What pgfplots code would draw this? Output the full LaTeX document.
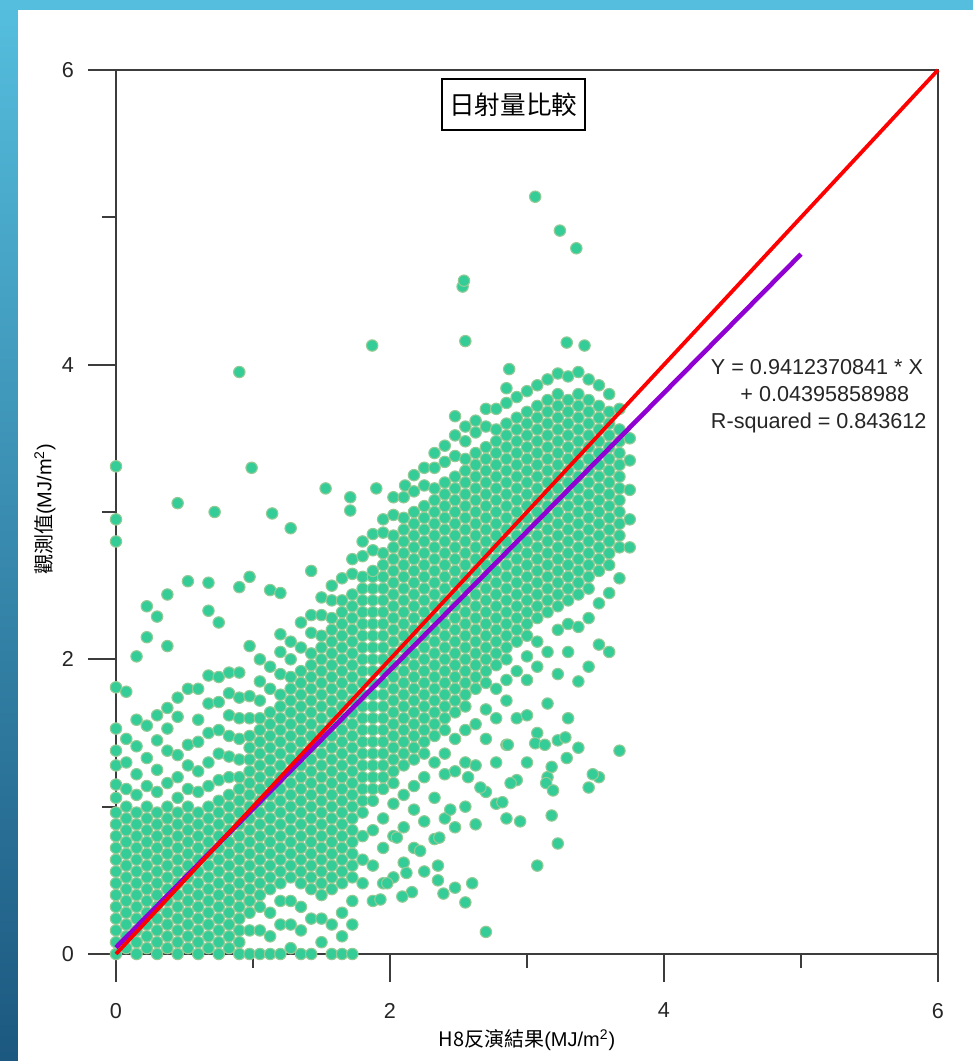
\documentclass[border=0pt]{standalone}
\usepackage{pgfplots}
\pgfplotsset{compat=1.18}
\usetikzlibrary{calc,backgrounds}
\usepackage{fontspec}
\setmainfont{Liberation Sans}
\newfontfamily\cjk{Noto Sans CJK TC}
\definecolor{ptfill}{RGB}{52,205,152}
\definecolor{ptedge}{RGB}{148,202,150}
\definecolor{fitpurple}{RGB}{145,0,210}
\definecolor{axgray}{RGB}{60,60,60}
\definecolor{bgtop}{RGB}{85,190,222}
\definecolor{bgbot}{RGB}{28,88,128}
\begin{document}
\begin{tikzpicture}[x=0.5pt,y=0.5pt]
\begin{axis}[
  name=ax, anchor=origin, at={(0,0)},
  clip mode=individual,
  scale only axis, width=411pt, height=442pt,
  xmin=0, xmax=6, ymin=0, ymax=6,
  xtick={0,2,4,6}, ytick={0,2,4,6},
  minor xtick={1,3,5}, minor ytick={1,3,5},
  tick align=outside, tick pos=left,
  major tick length=14pt, minor tick length=7pt,
  axis line style={draw=axgray, line width=1pt},
  every tick/.style={draw=axgray, line width=1pt},
  /pgf/number format/assume math mode=true,
  ticklabel style={font=\fontsize{10.8}{13}\selectfont, text=black!85},
  xticklabel style={yshift=-7pt},
  yticklabel style={xshift=-3.5pt},
  xlabel={{\cjk H8反演結果}(MJ/m\textsuperscript{2})},
  ylabel={{\cjk 觀測值}(MJ/m\textsuperscript{2})},
  label style={font=\fontsize{11.6}{14}\selectfont, text=black!85},
  every axis x label/.style={at={(axis description cs:0.5,-0.0973)}, anchor=center},
  every axis y label/.style={at={(axis description cs:-0.0864,0.503)}, anchor=center, rotate=90},
  clip=false,
]
\addplot[only marks, mark=*, mark size=2.85pt, mark options={fill=ptfill, draw=ptedge, line width=0.55pt}] coordinates {
(0,0)(0,0.08)(0,0.16)(0,0.24)(0,0.32)(0,0.4)(0,0.48)(0,0.56)(0,0.64)(0,0.72)(0,0.8)(0,0.88)(0,0.96)(0,1.06)(0,1.15)(0,1.28)(0,1.38)(0,1.53)(0,1.81)(0,2.8)(0,2.95)(0,3.31)
(0.075,0.04)(0.075,0.12)(0.075,0.2)(0.075,0.28)(0.075,0.36)(0.075,0.44)(0.075,0.52)(0.075,0.6)(0.075,0.68)(0.075,0.76)(0.075,0.84)(0.075,0.92)(0.075,1)(0.075,1.12)(0.075,1.3)(0.075,1.46)(0.075,1.78)
(0.15,0)(0.15,0.08)(0.15,0.16)(0.15,0.24)(0.15,0.32)(0.15,0.4)(0.15,0.48)(0.15,0.56)(0.15,0.64)(0.15,0.72)(0.15,0.8)(0.15,0.88)(0.15,0.96)(0.15,1.08)(0.15,1.22)(0.15,1.41)(0.15,1.59)(0.15,2.02)
(0.225,0.04)(0.225,0.12)(0.225,0.2)(0.225,0.28)(0.225,0.36)(0.225,0.44)(0.225,0.52)(0.225,0.6)(0.225,0.68)(0.225,0.76)(0.225,0.84)(0.225,0.92)(0.225,1)(0.225,1.14)(0.225,1.33)(0.225,1.55)(0.225,2.15)(0.225,2.36)
(0.3,0)(0.3,0.08)(0.3,0.16)(0.3,0.24)(0.3,0.32)(0.3,0.4)(0.3,0.48)(0.3,0.56)(0.3,0.64)(0.3,0.72)(0.3,0.8)(0.3,0.88)(0.3,0.96)(0.3,1.1)(0.3,1.25)(0.3,1.45)(0.3,1.62)(0.3,2.29)
(0.375,0.04)(0.375,0.12)(0.375,0.2)(0.375,0.28)(0.375,0.36)(0.375,0.44)(0.375,0.52)(0.375,0.6)(0.375,0.68)(0.375,0.76)(0.375,0.84)(0.375,0.92)(0.375,1)(0.375,1.16)(0.375,1.38)(0.375,1.53)(0.375,1.67)(0.375,2.09)(0.375,2.44)
(0.45,0)(0.45,0.08)(0.45,0.16)(0.45,0.24)(0.45,0.32)(0.45,0.4)(0.45,0.48)(0.45,0.56)(0.45,0.64)(0.45,0.72)(0.45,0.8)(0.45,0.88)(0.45,0.96)(0.45,1.06)(0.45,1.2)(0.45,1.35)(0.45,1.61)(0.45,1.74)(0.45,3.06)
(0.525,0.04)(0.525,0.12)(0.525,0.2)(0.525,0.28)(0.525,0.36)(0.525,0.44)(0.525,0.52)(0.525,0.6)(0.525,0.68)(0.525,0.76)(0.525,0.84)(0.525,0.92)(0.525,1)(0.525,1.12)(0.525,1.28)(0.525,1.42)(0.525,1.8)(0.525,2.53)
(0.6,0)(0.6,0.08)(0.6,0.16)(0.6,0.24)(0.6,0.32)(0.6,0.4)(0.6,0.48)(0.6,0.56)(0.6,0.64)(0.6,0.72)(0.6,0.8)(0.6,0.88)(0.6,0.96)(0.6,1.1)(0.6,1.24)(0.6,1.44)(0.6,1.59)(0.6,1.8)
(0.675,0.04)(0.675,0.12)(0.675,0.2)(0.675,0.28)(0.675,0.36)(0.675,0.44)(0.675,0.52)(0.675,0.6)(0.675,0.68)(0.675,0.76)(0.675,0.84)(0.675,0.92)(0.675,1)(0.675,1.14)(0.675,1.3)(0.675,1.5)(0.675,1.7)(0.675,1.89)(0.675,2.33)(0.675,2.52)
(0.75,0)(0.75,0.08)(0.75,0.16)(0.75,0.24)(0.75,0.32)(0.75,0.4)(0.75,0.48)(0.75,0.56)(0.75,0.64)(0.75,0.72)(0.75,0.8)(0.75,0.88)(0.75,0.96)(0.75,1.04)(0.75,1.18)(0.75,1.36)(0.75,1.52)(0.75,1.71)(0.75,1.88)(0.75,2.25)(0.72,3)
(0.825,0.04)(0.825,0.12)(0.825,0.2)(0.825,0.28)(0.825,0.36)(0.825,0.44)(0.825,0.52)(0.825,0.6)(0.825,0.68)(0.825,0.76)(0.825,0.84)(0.825,0.92)(0.825,1)(0.825,1.08)(0.825,1.2)(0.825,1.34)(0.825,1.48)(0.825,1.62)(0.825,1.77)(0.825,1.91)
(0.9,0)(0.9,0.08)(0.9,0.16)(0.9,0.24)(0.9,0.32)(0.9,0.4)(0.9,0.48)(0.9,0.56)(0.9,0.64)(0.9,0.72)(0.9,0.8)(0.9,0.88)(0.9,0.96)(0.9,1.04)(0.9,1.12)(0.9,1.2)(0.9,1.32)(0.9,1.46)(0.9,1.6)(0.9,1.74)(0.9,1.91)(0.9,2.49)(0.9,3.95)
(0.975,0)(0.975,0.16)(0.975,0.28)(0.975,0.36)(0.975,0.44)(0.975,0.52)(0.975,0.6)(0.975,0.68)(0.975,0.76)(0.975,0.84)(0.975,0.92)(0.975,1)(0.975,1.08)(0.975,1.16)(0.975,1.24)(0.975,1.32)(0.975,1.4)(0.975,1.48)(0.975,1.6)(0.975,1.75)(0.975,2.09)(0.975,2.56)(0.99,3.3)
(1.05,0)(1.05,0.16)(1.05,0.32)(1.05,0.4)(1.05,0.48)(1.05,0.56)(1.05,0.64)(1.05,0.72)(1.05,0.8)(1.05,0.88)(1.05,0.96)(1.05,1.04)(1.05,1.12)(1.05,1.2)(1.05,1.28)(1.05,1.36)(1.05,1.44)(1.05,1.52)(1.05,1.6)(1.05,1.72)(1.05,1.85)(1.05,2)
(1.125,0)(1.125,0.12)(1.125,0.28)(1.125,0.44)(1.125,0.52)(1.125,0.6)(1.125,0.68)(1.125,0.76)(1.125,0.84)(1.125,0.92)(1.125,1)(1.125,1.08)(1.125,1.16)(1.125,1.24)(1.125,1.32)(1.125,1.4)(1.125,1.48)(1.125,1.56)(1.125,1.64)(1.125,1.8)(1.125,1.95)(1.125,2.47)(1.14,2.99)
(1.2,0)(1.2,0.2)(1.2,0.36)(1.2,0.48)(1.2,0.56)(1.2,0.64)(1.2,0.72)(1.2,0.8)(1.2,0.88)(1.2,0.96)(1.2,1.04)(1.2,1.12)(1.2,1.2)(1.2,1.28)(1.2,1.36)(1.2,1.44)(1.2,1.52)(1.2,1.6)(1.2,1.68)(1.2,1.76)(1.2,1.9)(1.2,2.05)(1.2,2.17)(1.2,2.45)
(1.275,0.04)(1.275,0.2)(1.275,0.36)(1.275,0.52)(1.275,0.6)(1.275,0.68)(1.275,0.76)(1.275,0.84)(1.275,0.92)(1.275,1)(1.275,1.08)(1.275,1.16)(1.275,1.24)(1.275,1.32)(1.275,1.4)(1.275,1.48)(1.275,1.56)(1.275,1.64)(1.275,1.72)(1.275,1.8)(1.275,1.88)(1.275,2)(1.275,2.12)(1.275,2.89)
(1.35,0)(1.35,0.16)(1.35,0.32)(1.35,0.48)(1.35,0.56)(1.35,0.64)(1.35,0.72)(1.35,0.8)(1.35,0.88)(1.35,0.96)(1.35,1.04)(1.35,1.12)(1.35,1.2)(1.35,1.28)(1.35,1.36)(1.35,1.44)(1.35,1.52)(1.35,1.6)(1.35,1.68)(1.35,1.76)(1.35,1.84)(1.35,1.92)(1.35,2.08)(1.35,2.25)
(1.425,0)(1.425,0.24)(1.425,0.44)(1.425,0.52)(1.425,0.6)(1.425,0.68)(1.425,0.76)(1.425,0.84)(1.425,0.92)(1.425,1)(1.425,1.08)(1.425,1.16)(1.425,1.24)(1.425,1.32)(1.425,1.4)(1.425,1.48)(1.425,1.56)(1.425,1.64)(1.425,1.72)(1.425,1.8)(1.425,1.88)(1.425,1.96)(1.425,2.04)(1.425,2.18)(1.425,2.3)(1.425,2.6)
(1.5,0.08)(1.5,0.24)(1.5,0.4)(1.5,0.48)(1.5,0.56)(1.5,0.64)(1.5,0.72)(1.5,0.8)(1.5,0.88)(1.5,0.96)(1.5,1.04)(1.5,1.12)(1.5,1.2)(1.5,1.28)(1.5,1.36)(1.5,1.44)(1.5,1.52)(1.5,1.6)(1.5,1.68)(1.5,1.76)(1.5,1.84)(1.5,1.92)(1.5,2)(1.5,2.08)(1.5,2.16)(1.5,2.3)(1.5,2.42)
(1.575,0)(1.575,0.2)(1.575,0.44)(1.575,0.52)(1.575,0.6)(1.575,0.68)(1.575,0.76)(1.575,0.84)(1.575,0.92)(1.575,1)(1.575,1.08)(1.575,1.16)(1.575,1.24)(1.575,1.32)(1.575,1.4)(1.575,1.48)(1.575,1.56)(1.575,1.64)(1.575,1.72)(1.575,1.8)(1.575,1.88)(1.575,1.96)(1.575,2.04)(1.575,2.12)(1.575,2.2)(1.575,2.28)(1.575,2.4)(1.575,2.5)(1.53,3.16)
(1.65,0)(1.65,0.12)(1.65,0.28)(1.65,0.48)(1.65,0.56)(1.65,0.64)(1.65,0.72)(1.65,0.8)(1.65,0.88)(1.65,0.96)(1.65,1.04)(1.65,1.12)(1.65,1.2)(1.65,1.28)(1.65,1.36)(1.65,1.44)(1.65,1.52)(1.65,1.6)(1.65,1.68)(1.65,1.76)(1.65,1.84)(1.65,1.92)(1.65,2)(1.65,2.08)(1.65,2.16)(1.65,2.24)(1.65,2.32)(1.65,2.4)(1.65,2.55)
(1.725,0)(1.725,0.2)(1.725,0.36)(1.725,0.52)(1.725,0.6)(1.725,0.68)(1.725,0.76)(1.725,0.84)(1.725,0.92)(1.725,1)(1.725,1.08)(1.725,1.16)(1.725,1.24)(1.725,1.32)(1.725,1.4)(1.725,1.48)(1.725,1.56)(1.725,1.64)(1.725,1.72)(1.725,1.8)(1.725,1.88)(1.725,1.96)(1.725,2.04)(1.725,2.12)(1.725,2.2)(1.725,2.28)(1.725,2.36)(1.725,2.44)(1.725,2.58)(1.725,2.68)(1.71,3.01)(1.71,3.1)
(1.8,0.48)(1.8,0.64)(1.8,0.8)(1.8,0.96)(1.8,1.04)(1.8,1.12)(1.8,1.2)(1.8,1.28)(1.8,1.36)(1.8,1.44)(1.8,1.52)(1.8,1.6)(1.8,1.68)(1.8,1.76)(1.8,1.84)(1.8,1.92)(1.8,2)(1.8,2.08)(1.8,2.16)(1.8,2.24)(1.8,2.32)(1.8,2.4)(1.8,2.48)(1.8,2.56)(1.8,2.7)(1.8,2.8)
(1.875,0.36)(1.875,0.6)(1.875,0.84)(1.875,1.04)(1.875,1.12)(1.875,1.2)(1.875,1.28)(1.875,1.36)(1.875,1.44)(1.875,1.52)(1.875,1.6)(1.875,1.68)(1.875,1.76)(1.875,1.84)(1.875,1.92)(1.875,2)(1.875,2.08)(1.875,2.16)(1.875,2.24)(1.875,2.32)(1.875,2.4)(1.875,2.48)(1.875,2.56)(1.875,2.6)(1.875,2.74)(1.875,2.85)(1.9,3.16)(1.87,4.13)
(1.95,0.48)(1.95,0.72)(1.95,0.92)(1.95,1.12)(1.95,1.2)(1.95,1.28)(1.95,1.36)(1.95,1.44)(1.95,1.52)(1.95,1.6)(1.95,1.68)(1.95,1.76)(1.95,1.84)(1.95,1.92)(1.95,2)(1.95,2.08)(1.95,2.16)(1.95,2.24)(1.95,2.32)(1.95,2.4)(1.95,2.48)(1.95,2.56)(1.95,2.64)(1.95,2.72)(1.95,2.86)(1.95,2.95)
(2.025,0.52)(2.025,0.8)(2.025,1.02)(2.025,1.16)(2.025,1.24)(2.025,1.32)(2.025,1.4)(2.025,1.48)(2.025,1.56)(2.025,1.64)(2.025,1.72)(2.025,1.8)(2.025,1.88)(2.025,1.96)(2.025,2.04)(2.025,2.12)(2.025,2.2)(2.025,2.28)(2.025,2.36)(2.025,2.44)(2.025,2.52)(2.025,2.6)(2.025,2.68)(2.025,2.76)(2.025,2.84)(2.025,2.98)(2.025,3.1)
(2.1,0.62)(2.1,0.86)(2.1,1.08)(2.1,1.28)(2.1,1.36)(2.1,1.44)(2.1,1.52)(2.1,1.6)(2.1,1.68)(2.1,1.76)(2.1,1.84)(2.1,1.92)(2.1,2)(2.1,2.08)(2.1,2.16)(2.1,2.24)(2.1,2.32)(2.1,2.4)(2.1,2.48)(2.1,2.56)(2.1,2.64)(2.1,2.72)(2.1,2.8)(2.1,2.88)(2.1,2.96)(2.1,3.1)(2.11,3.18)
(2.175,0.72)(2.175,0.98)(2.175,1.14)(2.175,1.32)(2.175,1.4)(2.175,1.48)(2.175,1.56)(2.175,1.64)(2.175,1.72)(2.175,1.8)(2.175,1.88)(2.175,1.96)(2.175,2.04)(2.175,2.12)(2.175,2.2)(2.175,2.28)(2.175,2.36)(2.175,2.44)(2.175,2.52)(2.175,2.6)(2.175,2.68)(2.175,2.76)(2.175,2.84)(2.175,2.92)(2.175,3)(2.175,3.14)(2.175,3.25)
(2.25,0.56)(2.25,0.9)(2.25,1.2)(2.25,1.36)(2.25,1.44)(2.25,1.52)(2.25,1.6)(2.25,1.68)(2.25,1.76)(2.25,1.84)(2.25,1.92)(2.25,2)(2.25,2.08)(2.25,2.16)(2.25,2.24)(2.25,2.32)(2.25,2.4)(2.25,2.48)(2.25,2.56)(2.25,2.64)(2.25,2.72)(2.25,2.8)(2.25,2.88)(2.25,2.96)(2.25,3.04)(2.25,3.18)(2.25,3.3)
(2.325,0.78)(2.325,1.06)(2.325,1.3)(2.325,1.48)(2.325,1.56)(2.325,1.64)(2.325,1.72)(2.325,1.8)(2.325,1.88)(2.325,1.96)(2.325,2.04)(2.325,2.12)(2.325,2.2)(2.325,2.28)(2.325,2.36)(2.325,2.44)(2.325,2.52)(2.325,2.6)(2.325,2.68)(2.325,2.76)(2.325,2.84)(2.325,2.92)(2.325,3)(2.325,3.08)(2.325,3.16)(2.325,3.3)(2.325,3.4)
(2.4,0.92)(2.4,1.22)(2.4,1.36)(2.4,1.52)(2.4,1.6)(2.4,1.68)(2.4,1.76)(2.4,1.84)(2.4,1.92)(2.4,2)(2.4,2.08)(2.4,2.16)(2.4,2.24)(2.4,2.32)(2.4,2.4)(2.4,2.48)(2.4,2.56)(2.4,2.64)(2.4,2.72)(2.4,2.8)(2.4,2.88)(2.4,2.96)(2.4,3.04)(2.4,3.12)(2.4,3.2)(2.4,3.34)(2.4,3.45)
(2.475,0.45)(2.475,0.86)(2.475,1.24)(2.475,1.46)(2.475,1.64)(2.475,1.72)(2.475,1.8)(2.475,1.88)(2.475,1.96)(2.475,2.04)(2.475,2.12)(2.475,2.2)(2.475,2.28)(2.475,2.36)(2.475,2.44)(2.475,2.52)(2.475,2.6)(2.475,2.68)(2.475,2.76)(2.475,2.84)(2.475,2.92)(2.475,3)(2.475,3.08)(2.475,3.16)(2.475,3.24)(2.475,3.38)(2.475,3.52)(2.475,3.65)
(2.55,0.35)(2.55,1)(2.55,1.3)(2.55,1.52)(2.55,1.68)(2.55,1.76)(2.55,1.84)(2.55,1.92)(2.55,2)(2.55,2.08)(2.55,2.16)(2.55,2.24)(2.55,2.32)(2.55,2.4)(2.55,2.48)(2.55,2.56)(2.55,2.64)(2.55,2.72)(2.55,2.8)(2.55,2.88)(2.55,2.96)(2.55,3.04)(2.55,3.12)(2.55,3.2)(2.55,3.28)(2.55,3.36)(2.55,3.48)(2.55,3.58)(2.55,4.16)(2.53,4.53)(2.54,4.57)
(2.625,0.88)(2.625,1.28)(2.625,1.56)(2.625,1.8)(2.625,1.88)(2.625,1.96)(2.625,2.04)(2.625,2.12)(2.625,2.2)(2.625,2.28)(2.625,2.36)(2.625,2.44)(2.625,2.52)(2.625,2.6)(2.625,2.68)(2.625,2.76)(2.625,2.84)(2.625,2.92)(2.625,3)(2.625,3.08)(2.625,3.16)(2.625,3.24)(2.625,3.32)(2.625,3.4)(2.625,3.54)(2.625,3.62)
(2.7,0.15)(2.7,1.1)(2.7,1.46)(2.7,1.66)(2.7,1.84)(2.7,1.92)(2.7,2)(2.7,2.08)(2.7,2.16)(2.7,2.24)(2.7,2.32)(2.7,2.4)(2.7,2.48)(2.7,2.56)(2.7,2.64)(2.7,2.72)(2.7,2.8)(2.7,2.88)(2.7,2.96)(2.7,3.04)(2.7,3.12)(2.7,3.2)(2.7,3.28)(2.7,3.36)(2.7,3.44)(2.7,3.58)(2.7,3.7)
(2.775,1.02)(2.775,1.3)(2.775,1.6)(2.775,1.8)(2.775,1.96)(2.775,2.04)(2.775,2.12)(2.775,2.2)(2.775,2.28)(2.775,2.36)(2.775,2.44)(2.775,2.52)(2.775,2.6)(2.775,2.68)(2.775,2.76)(2.775,2.84)(2.775,2.92)(2.775,3)(2.775,3.08)(2.775,3.16)(2.775,3.24)(2.775,3.32)(2.775,3.4)(2.775,3.48)(2.775,3.56)(2.775,3.7)
(2.85,0.92)(2.85,1.42)(2.85,1.72)(2.85,1.86)(2.85,2)(2.85,2.08)(2.85,2.16)(2.85,2.24)(2.85,2.32)(2.85,2.4)(2.85,2.48)(2.85,2.56)(2.85,2.64)(2.85,2.72)(2.85,2.8)(2.85,2.88)(2.85,2.96)(2.85,3.04)(2.85,3.12)(2.85,3.2)(2.85,3.28)(2.85,3.36)(2.85,3.44)(2.85,3.52)(2.85,3.6)(2.85,3.74)(2.85,3.84)(2.87,3.97)
(2.925,1.18)(2.925,1.6)(2.925,1.92)(2.925,2.12)(2.925,2.2)(2.925,2.28)(2.925,2.36)(2.925,2.44)(2.925,2.52)(2.925,2.6)(2.925,2.68)(2.925,2.76)(2.925,2.84)(2.925,2.92)(2.925,3)(2.925,3.08)(2.925,3.16)(2.925,3.24)(2.925,3.32)(2.925,3.4)(2.925,3.48)(2.925,3.56)(2.925,3.64)(2.925,3.78)
(3,1.3)(3,1.62)(3,1.86)(3,2.02)(3,2.16)(3,2.24)(3,2.32)(3,2.4)(3,2.48)(3,2.56)(3,2.64)(3,2.72)(3,2.8)(3,2.88)(3,2.96)(3,3.04)(3,3.12)(3,3.2)(3,3.28)(3,3.36)(3,3.44)(3,3.52)(3,3.6)(3,3.68)(3,3.82)
(3.075,0.6)(3.075,1.5)(3.075,1.95)(3.075,2.12)(3.075,2.28)(3.075,2.36)(3.075,2.44)(3.075,2.52)(3.075,2.6)(3.075,2.68)(3.075,2.76)(3.075,2.84)(3.075,2.92)(3.075,3)(3.075,3.08)(3.075,3.16)(3.075,3.24)(3.075,3.32)(3.075,3.4)(3.075,3.48)(3.075,3.56)(3.075,3.64)(3.075,3.72)(3.075,3.86)(3.06,5.14)
(3.15,1.2)(3.15,1.7)(3.15,2.05)(3.15,2.32)(3.15,2.4)(3.15,2.48)(3.15,2.56)(3.15,2.64)(3.15,2.72)(3.15,2.8)(3.15,2.88)(3.15,2.96)(3.15,3.04)(3.15,3.12)(3.15,3.2)(3.15,3.28)(3.15,3.36)(3.15,3.44)(3.15,3.52)(3.15,3.6)(3.15,3.68)(3.15,3.76)(3.15,3.9)
(3.225,0.75)(3.225,1.45)(3.225,1.9)(3.225,2.2)(3.225,2.36)(3.225,2.44)(3.225,2.52)(3.225,2.6)(3.225,2.68)(3.225,2.76)(3.225,2.84)(3.225,2.92)(3.225,3)(3.225,3.08)(3.225,3.16)(3.225,3.24)(3.225,3.32)(3.225,3.4)(3.225,3.48)(3.225,3.56)(3.225,3.64)(3.225,3.72)(3.225,3.8)(3.225,3.94)(3.24,4.91)
(3.3,1.6)(3.3,2.05)(3.3,2.24)(3.3,2.4)(3.3,2.48)(3.3,2.56)(3.3,2.64)(3.3,2.72)(3.3,2.8)(3.3,2.88)(3.3,2.96)(3.3,3.04)(3.3,3.12)(3.3,3.2)(3.3,3.28)(3.3,3.36)(3.3,3.44)(3.3,3.52)(3.3,3.6)(3.3,3.68)(3.3,3.76)(3.3,3.92)(3.29,4.15)
(3.375,1.4)(3.375,1.85)(3.375,2.22)(3.375,2.44)(3.375,2.52)(3.375,2.6)(3.375,2.68)(3.375,2.76)(3.375,2.84)(3.375,2.92)(3.375,3)(3.375,3.08)(3.375,3.16)(3.375,3.24)(3.375,3.32)(3.375,3.4)(3.375,3.48)(3.375,3.56)(3.375,3.64)(3.375,3.72)(3.375,3.8)(3.375,3.95)(3.36,4.79)
(3.45,1.95)(3.45,2.28)(3.45,2.48)(3.45,2.56)(3.45,2.64)(3.45,2.72)(3.45,2.8)(3.45,2.88)(3.45,2.96)(3.45,3.04)(3.45,3.12)(3.45,3.2)(3.45,3.28)(3.45,3.36)(3.45,3.44)(3.45,3.52)(3.45,3.6)(3.45,3.68)(3.45,3.76)(3.45,3.9)(3.42,4.13)
(3.525,1.2)(3.525,2.1)(3.525,2.38)(3.525,2.6)(3.525,2.68)(3.525,2.76)(3.525,2.84)(3.525,2.92)(3.525,3)(3.525,3.08)(3.525,3.16)(3.525,3.24)(3.525,3.32)(3.525,3.4)(3.525,3.48)(3.525,3.56)(3.525,3.64)(3.525,3.72)(3.525,3.86)
(3.6,2.05)(3.6,2.45)(3.6,2.64)(3.6,2.72)(3.6,2.8)(3.6,2.88)(3.6,2.96)(3.6,3.04)(3.6,3.12)(3.6,3.2)(3.6,3.28)(3.6,3.36)(3.6,3.44)(3.6,3.52)(3.6,3.6)(3.6,3.68)(3.6,3.8)
(3.675,1.38)(3.675,2.55)(3.675,2.76)(3.675,2.84)(3.675,2.92)(3.675,3)(3.675,3.08)(3.675,3.16)(3.675,3.24)(3.675,3.32)(3.675,3.4)(3.675,3.48)(3.675,3.56)(3.675,3.7)
(3.75,2.76)(3.75,2.95)(3.75,3.15)(3.75,3.35)(3.75,3.5)
(2.95,0.9)(3.18,0.94)(3.48,1.22)(3.45,1.13)(3.14,1.16)(3.19,1.11)(3.18,1.27)(3.29,1.33)(3.06,1.43)(3.13,1.42)(3.28,1.47)(2.86,1.42)(2.88,1.16)(2.82,1.03)(2.6,0.48)(2.35,0.6)(2.35,0.5)(2.39,0.41)(2.12,0.55)(1.93,0.37)(2.16,0.42)(2.09,0.39)(1.98,0.48)(2.36,0.79)(2.05,0.79)(2.57,1.2)(2.66,1.13)(2.44,0.98)(2.22,0.7)
};
\addplot[fitpurple, line width=2.3pt] coordinates {(0,0.04395858988) (5,4.75014401038)};
\addplot[red, line width=1.9pt] coordinates {(0,0) (6,6)};
\node[draw=black, line width=0.8pt, minimum width=71.5pt, minimum height=25.5pt, inner sep=0pt, font=\cjk\fontsize{12.8}{14}\selectfont] at (axis cs:2.90,5.764) {日射量比較};
\node[anchor=base west, inner sep=0pt, font=\fontsize{10.8}{13}\selectfont, text=black!85] at (axis cs:4.34,3.93) {Y = 0.9412370841 * X};
\node[anchor=base west, inner sep=0pt, font=\fontsize{10.8}{13}\selectfont, text=black!85] at (axis cs:4.555,3.75) {+ 0.04395858988};
\node[anchor=base west, inner sep=0pt, font=\fontsize{10.8}{13}\selectfont, text=black!85] at (axis cs:4.34,3.57) {R-squared = 0.843612};
\end{axis}
\begin{scope}[on background layer]
\fill[white] ($(ax.origin)+(-116,-107)$) rectangle ($(ax.origin)+(857,954)$);
\shade[top color=bgtop, bottom color=bgbot] ($(ax.origin)+(-116,-107)$) rectangle ($(ax.origin)+(-98,954)$);
\fill[bgtop] ($(ax.origin)+(-116,944)$) rectangle ($(ax.origin)+(857,954)$);
\end{scope}
\pgfresetboundingbox
\useasboundingbox ($(ax.origin)+(-116,-107)$) rectangle ($(ax.origin)+(857,954)$);
\end{tikzpicture}
\end{document}
